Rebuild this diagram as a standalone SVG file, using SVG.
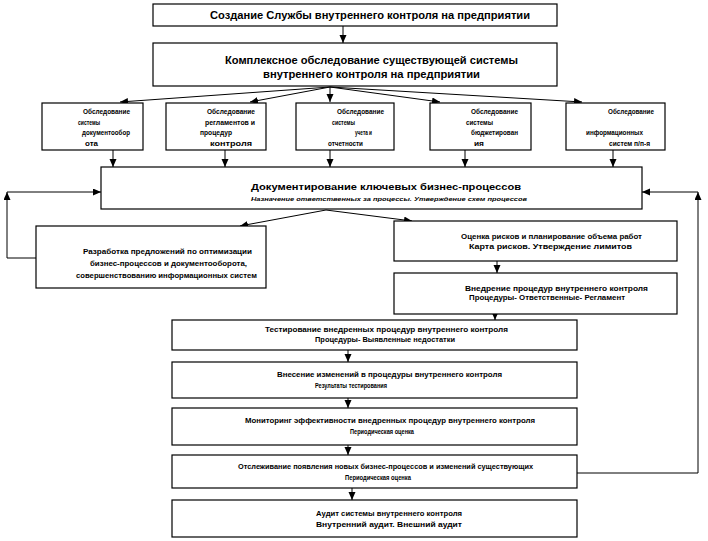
<svg xmlns="http://www.w3.org/2000/svg" width="708" height="541" viewBox="0 0 708 541">
<style>
.box{fill:#fff;stroke:#000;stroke-width:1.2}
.c{fill:none;stroke:#000;stroke-width:1}
text{font-family:"Liberation Sans",Arial,sans-serif;font-weight:bold;fill:#000}
.t1{font-size:11.5px}
.t2{font-size:9.5px}
.s{font-size:6.5px}
.si{font-size:5.5px;font-style:italic}
</style>
<defs>
<marker id="ah" markerUnits="userSpaceOnUse" markerWidth="9" markerHeight="8" refX="8" refY="3.5" orient="auto">
<path d="M0,0 L8,3.5 L0,7 z" fill="#000"/>
</marker>
</defs>
<rect width="708" height="541" fill="#fff"/>
<g id="connectors">
<line class="c" x1="343" y1="26" x2="343" y2="43" marker-end="url(#ah)"/>
<line class="c" x1="330" y1="87" x2="120" y2="102" marker-end="url(#ah)"/>
<line class="c" x1="330" y1="87" x2="250" y2="102" marker-end="url(#ah)"/>
<line class="c" x1="330" y1="87" x2="330" y2="102" marker-end="url(#ah)"/>
<line class="c" x1="330" y1="87" x2="440" y2="102" marker-end="url(#ah)"/>
<line class="c" x1="330" y1="87" x2="582" y2="102" marker-end="url(#ah)"/>
<line class="c" x1="113" y1="150" x2="113" y2="167" marker-end="url(#ah)"/>
<line class="c" x1="225" y1="150" x2="225" y2="167" marker-end="url(#ah)"/>
<line class="c" x1="330" y1="150" x2="330" y2="167" marker-end="url(#ah)"/>
<line class="c" x1="465" y1="150" x2="465" y2="167" marker-end="url(#ah)"/>
<line class="c" x1="613" y1="150" x2="613" y2="167" marker-end="url(#ah)"/>
<line class="c" x1="326" y1="210" x2="240" y2="226" marker-end="url(#ah)"/>
<line class="c" x1="326" y1="210" x2="412" y2="221" marker-end="url(#ah)"/>
<line class="c" x1="497" y1="261" x2="497" y2="273" marker-end="url(#ah)"/>
<line class="c" x1="495" y1="314" x2="495" y2="320" marker-end="url(#ah)"/>
<line class="c" x1="348" y1="350" x2="348" y2="362" marker-end="url(#ah)"/>
<line class="c" x1="348" y1="398" x2="348" y2="408" marker-end="url(#ah)"/>
<line class="c" x1="348" y1="445" x2="348" y2="455" marker-end="url(#ah)"/>
<line class="c" x1="352" y1="488" x2="352" y2="500" marker-end="url(#ah)"/>
<polyline class="c" points="36,258 7,258 7,192" marker-end="url(#ah)"/>
<line class="c" x1="7" y1="192" x2="101" y2="192" marker-end="url(#ah)"/>
<polyline class="c" points="577,473 698,473 698,192" marker-end="url(#ah)"/>
<line class="c" x1="698" y1="192" x2="642" y2="192" marker-end="url(#ah)"/>
</g>
<g id="n1">
<rect class="box" x="153" y="4" width="404" height="22"/>
<text class="t1" x="210" y="19" textLength="320" lengthAdjust="spacingAndGlyphs">Создание Службы  внутреннего контроля на предприятии</text>
</g>
<g id="n2">
<rect class="box" x="153" y="43" width="404" height="43"/>
<text class="t1" x="225" y="64" textLength="293" lengthAdjust="spacingAndGlyphs">Комплексное обследование существующей системы</text>
<text class="t1" x="263" y="78" textLength="217" lengthAdjust="spacingAndGlyphs">внутреннего контроля на предприятии</text>
</g>
<g id="n3a">
<rect class="box" x="42" y="103" width="101" height="47"/>
<text class="s" x="83" y="114" textLength="47" lengthAdjust="spacingAndGlyphs">Обследование</text>
<text class="s" x="78" y="125" textLength="22" lengthAdjust="spacingAndGlyphs">системы</text>
<text class="s" x="82" y="135" textLength="48" lengthAdjust="spacingAndGlyphs">документообор</text>
<text class="s" x="85" y="146" textLength="13" lengthAdjust="spacingAndGlyphs">ота</text>
</g>
<g id="n3b">
<rect class="box" x="166" y="103" width="100" height="47"/>
<text class="s" x="207" y="114" textLength="48" lengthAdjust="spacingAndGlyphs">Обследование</text>
<text class="s" x="205" y="125" textLength="50" lengthAdjust="spacingAndGlyphs">регламентов  и</text>
<text class="s" x="200" y="135" textLength="32" lengthAdjust="spacingAndGlyphs">процедур</text>
<text class="s" x="210" y="146" textLength="42" lengthAdjust="spacingAndGlyphs">контроля</text>
</g>
<g id="n3c">
<rect class="box" x="296" y="103" width="98" height="47"/>
<text class="s" x="337" y="114" textLength="47" lengthAdjust="spacingAndGlyphs">Обследование</text>
<text class="s" x="332" y="125" textLength="23" lengthAdjust="spacingAndGlyphs">системы</text>
<text class="s" x="355" y="135" textLength="17" lengthAdjust="spacingAndGlyphs">учета и</text>
<text class="s" x="328" y="146" textLength="35" lengthAdjust="spacingAndGlyphs">отчетности</text>
</g>
<g id="n3d">
<rect class="box" x="430" y="103" width="101" height="47"/>
<text class="s" x="471" y="114" textLength="47" lengthAdjust="spacingAndGlyphs">Обследование</text>
<text class="s" x="466" y="125" textLength="27" lengthAdjust="spacingAndGlyphs">системы</text>
<text class="s" x="471" y="135" textLength="47" lengthAdjust="spacingAndGlyphs">бюджетирован</text>
<text class="s" x="474" y="146" textLength="10" lengthAdjust="spacingAndGlyphs">ия</text>
</g>
<g id="n3e">
<rect class="box" x="566" y="103" width="99" height="47"/>
<text class="s" x="608" y="114" textLength="46" lengthAdjust="spacingAndGlyphs">Обследование</text>
<text class="s" x="586" y="135" textLength="57" lengthAdjust="spacingAndGlyphs">информационных</text>
<text class="s" x="609" y="146" textLength="41" lengthAdjust="spacingAndGlyphs">систем  п/п-я</text>
</g>
<g id="n4">
<rect class="box" x="101" y="167" width="541" height="42"/>
<text class="t2" x="251" y="190" textLength="270" lengthAdjust="spacingAndGlyphs">Документирование ключевых бизнес-процессов</text>
<text class="si" x="251" y="201" textLength="276" lengthAdjust="spacingAndGlyphs">Назначение ответственных за процессы. Утверждение схем процессов</text>
</g>
<g id="n5">
<rect class="box" x="36" y="226" width="230" height="62"/>
<text class="s" x="83" y="254" textLength="169" lengthAdjust="spacingAndGlyphs">Разработка предложений по оптимизации</text>
<text class="s" x="90" y="266" textLength="157" lengthAdjust="spacingAndGlyphs">бизнес-процессов и документооборота,</text>
<text class="s" x="76" y="278" textLength="181" lengthAdjust="spacingAndGlyphs">совершенствованию  информационных систем</text>
</g>
<g id="n6">
<rect class="box" x="394" y="221" width="283" height="40"/>
<text class="s" x="461" y="239" textLength="181" lengthAdjust="spacingAndGlyphs">Оценка рисков и планирование объема работ</text>
<text class="s" x="469" y="249" textLength="163" lengthAdjust="spacingAndGlyphs">Карта  рисков. Утверждение  лимитов</text>
</g>
<g id="n7">
<rect class="box" x="394" y="273" width="283" height="41"/>
<text class="s" x="465" y="291" textLength="183" lengthAdjust="spacingAndGlyphs">Внедрение процедур внутреннего  контроля</text>
<text class="s" x="469" y="300" textLength="156" lengthAdjust="spacingAndGlyphs">Процедуры- Ответственные-  Регламент</text>
</g>
<g id="n8">
<rect class="box" x="172" y="320" width="405" height="30"/>
<text class="s" x="265" y="332" textLength="243" lengthAdjust="spacingAndGlyphs">Тестирование  внедренных  процедур внутреннего контроля</text>
<text class="s" x="315" y="342" textLength="140" lengthAdjust="spacingAndGlyphs">Процедуры- Выявленные  недостатки</text>
</g>
<g id="n9">
<rect class="box" x="172" y="362" width="405" height="36"/>
<text class="s" x="277" y="377" textLength="225" lengthAdjust="spacingAndGlyphs">Внесение изменений в процедуры внутреннего контроля</text>
<text class="s" x="315" y="388" textLength="72" lengthAdjust="spacingAndGlyphs">Результаты  тестирования</text>
</g>
<g id="n10">
<rect class="box" x="172" y="408" width="405" height="37"/>
<text class="s" x="245" y="423" textLength="290" lengthAdjust="spacingAndGlyphs">Мониторинг эффективности внедренных процедур внутреннего контроля</text>
<text class="s" x="350" y="434" textLength="64" lengthAdjust="spacingAndGlyphs">Периодическая  оценка</text>
</g>
<g id="n11">
<rect class="box" x="172" y="455" width="405" height="33"/>
<text class="s" x="238" y="469" textLength="295" lengthAdjust="spacingAndGlyphs">Отслеживание  появления новых бизнес-процессов и изменений существующих</text>
<text class="s" x="345" y="480" textLength="66" lengthAdjust="spacingAndGlyphs">Периодическая  оценка</text>
</g>
<g id="n12">
<rect class="box" x="172" y="500" width="405" height="37"/>
<text class="s" x="316" y="516" textLength="146" lengthAdjust="spacingAndGlyphs">Аудит системы внутреннего контроля</text>
<text class="s" x="316" y="527" textLength="146" lengthAdjust="spacingAndGlyphs">Внутренний  аудит. Внешний  аудит</text>
</g>
</svg>
